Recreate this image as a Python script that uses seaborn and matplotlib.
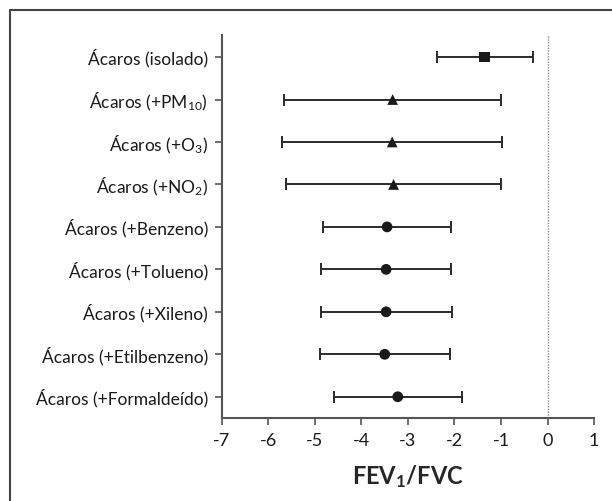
import numpy as np
import pandas as pd
import matplotlib.pyplot as plt
import seaborn as sns
from matplotlib.lines import Line2D

# ── Data ────────────────────────────────────────────────────
labels = ['Ácaros (isolado)', 'Ácaros (+PM$_{10}$)', 'Ácaros (+O$_3$)',
          'Ácaros (+NO$_2$)', 'Ácaros (+Benzeno)', 'Ácaros (+Tolueno)',
          'Ácaros (+Xileno)', 'Ácaros (+Etilbenzeno)', 'Ácaros (+Formaldeído)']
estimate = [-1.35, -3.33, -3.34, -3.31, -3.45, -3.47, -3.47, -3.50, -3.22]
ci_low = [-2.37, -5.66, -5.71, -5.62, -4.82, -4.88, -4.87, -4.90, -4.60]
ci_high = [-0.32, -1.00, -0.98, -1.00, -2.07, -2.07, -2.05, -2.10, -1.83]
group = ['isolado', 'gas', 'gas', 'gas', 'voc', 'voc', 'voc', 'voc', 'voc']

df = pd.DataFrame({'label': labels, 'est': estimate, 'lo': ci_low,
                   'hi': ci_high, 'group': group})
df['pos'] = np.arange(len(df))

# ── Style ────────────────────────────────────────────────────
sns.set_style('ticks')
plt.rcParams['font.family'] = ['Lato', 'DejaVu Sans']
plt.rcParams['mathtext.fontset'] = 'custom'
plt.rcParams['mathtext.rm'] = 'Lato'
plt.rcParams['mathtext.bf'] = 'Lato:bold'
plt.rcParams['mathtext.default'] = 'regular'
dark = '#2b2b2b'

fig = plt.figure(figsize=(6.12, 5.01), dpi=100)
ax = fig.add_axes([0.3627, 0.1657, 0.6079, 0.7645])

# confidence intervals
ax.errorbar(df['est'], df['pos'],
            xerr=[df['est'] - df['lo'], df['hi'] - df['est']],
            fmt='none', ecolor=dark, elinewidth=1.4, capsize=4,
            capthick=1.4, zorder=2)

# point estimates
sns.scatterplot(data=df, x='est', y='pos', style='group',
                markers={'isolado': 's', 'gas': '^', 'voc': 'o'},
                color='#1a1a1a', s=60, edgecolor='none', legend=False,
                ax=ax, zorder=3)

# reference line at zero
ax.axvline(0, color='#888888', lw=1, ls=(0, (1, 1)), zorder=1)

ax.set_xlim(-7, 1)
ax.set_ylim(8.5, -0.52)
ax.set_xticks(range(-7, 2))
ax.set_xticklabels([str(v) for v in range(-7, 2)], fontsize=13)
ax.set_yticks(df['pos'])
ax.set_yticklabels(df['label'], fontsize=12.5)
ax.set_ylabel('')
ax.set_xlabel('FEV$_\\mathbf{1}$/FVC', fontsize=17, fontweight='bold',
              labelpad=10)

for side in ['top', 'right']:
    ax.spines[side].set_visible(False)
for side in ['left', 'bottom']:
    ax.spines[side].set_color('#555555')
    ax.spines[side].set_linewidth(1.5)
ax.tick_params(axis='both', colors='#555555', width=1.2, length=5,
               labelcolor='#1a1a1a')
ax.tick_params(axis='y', pad=5)
ax.tick_params(axis='x', pad=6)

# outer frame (top and left edges visible in the reference)
fig.add_artist(Line2D([10 / 612, 1], [1 - 10 / 501, 1 - 10 / 501],
                      transform=fig.transFigure, color='#444444', lw=1.5))
fig.add_artist(Line2D([10 / 612, 10 / 612], [0, 1 - 10 / 501],
                      transform=fig.transFigure, color='#444444', lw=1.5))

plt.savefig('out.png', dpi=100)
plt.close()
